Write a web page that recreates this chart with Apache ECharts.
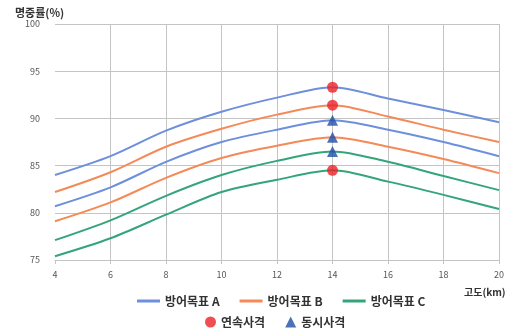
<!DOCTYPE html>
<html>
<head>
<meta charset="utf-8">
<script src="https://cdn.jsdelivr.net/npm/echarts@6/dist/echarts.min.js"></script>
<style>
  html, body { margin: 0; padding: 0; background: #ffffff; }
  #chart { width: 511px; height: 329px; }
</style>
</head>
<body>
<div id="chart"></div>
<script>
// Altitude (km) on the x axis
const altitudes = [4, 6, 8, 10, 12, 14, 16, 18, 20];
const yTicks = [75, 80, 85, 90, 95, 100];

// Hit rate (%) per defended target; two firing modes each
const targetAContinuous   = [84.0, 86.0, 88.7, 90.7, 92.2, 93.3, 92.1, 90.9, 89.6];
const targetASimultaneous = [80.7, 82.7, 85.4, 87.5, 88.8, 89.8, 88.8, 87.5, 86.0];
const targetBContinuous   = [82.2, 84.3, 87.0, 88.9, 90.4, 91.4, 90.2, 88.8, 87.5];
const targetBSimultaneous = [79.1, 81.1, 83.7, 85.8, 87.1, 88.0, 87.0, 85.7, 84.2];
const targetCSimultaneous = [77.1, 79.2, 81.8, 84.0, 85.5, 86.5, 85.4, 83.9, 82.4];
const targetCContinuous   = [75.4, 77.3, 79.8, 82.2, 83.5, 84.5, 83.3, 81.9, 80.4];

const seriesNames = ['방어목표 A', '방어목표 B', '방어목표 C'];
const markerNames = ['연속사격', '동시사격'];
const markAltitude = 14;

const colorA = '#6d8fdc';
const colorB = '#f48a58';
const colorC = '#34a57b';
const colorCircle = '#ec2027';
const colorTriangle = '#1f4ea6';

const pairs = arr => altitudes.map((x, i) => [x, arr[i]]);
const at = arr => [markAltitude, arr[altitudes.indexOf(markAltitude)]];

const lineSeries = (name, color, arr) => ({
  name, type: 'line', data: pairs(arr), smooth: 0.3,
  symbol: 'none', lineStyle: { color, width: 2 }, itemStyle: { color },
  z: 2
});

const font = '"Noto Sans CJK KR", "Noto Sans", sans-serif';
const gridGray = '#c4c4c4';

const chart = echarts.init(document.getElementById('chart'), null, { renderer: 'canvas' });
chart.setOption({
  animation: false,
  backgroundColor: '#ffffff',
  textStyle: { fontFamily: font },
  title: [
    { text: '명중률(%)', left: 10, top: 2,
      textStyle: { fontSize: 11, fontWeight: 'bold', color: '#333', fontFamily: font } },
    { text: '고도(km)', left: 459, top: 282,
      textStyle: { fontSize: 10, fontWeight: 'bold', color: '#333', fontFamily: font } }
  ],
  grid: { left: 55, right: 12, top: 24, bottom: 69, containLabel: false },
  xAxis: {
    type: 'value', min: altitudes[0], max: altitudes[altitudes.length - 1], interval: 2,
    axisLine: { show: true, lineStyle: { color: gridGray, width: 1 } },
    axisTick: { show: true, length: 4, lineStyle: { color: gridGray } },
    axisLabel: { color: '#555', fontSize: 9, margin: 10, fontFamily: font },
    splitLine: { show: true, lineStyle: { color: ['rgba(0,0,0,0)', gridGray, gridGray, gridGray, gridGray, gridGray, gridGray, gridGray, gridGray], width: 1 } }
  },
  yAxis: {
    type: 'value', min: yTicks[0], max: yTicks[yTicks.length - 1], interval: 5,
    axisLine: { show: false },
    axisTick: { show: false },
    axisLabel: { color: '#555', fontSize: 9, margin: 15, fontFamily: font },
    splitLine: { show: true, lineStyle: { color: gridGray, width: 1 } }
  },
  legend: [
    {
      data: seriesNames, left: 132, top: 290, orient: 'horizontal',
      icon: 'rect', itemWidth: 23, itemHeight: 3, itemGap: 20,
      textStyle: { fontSize: 12, color: '#333', fontWeight: 'bold', fontFamily: font }
    },
    {
      data: [
        { name: markerNames[0], icon: 'circle' },
        { name: markerNames[1], icon: 'triangle' }
      ],
      left: 200, top: 311, orient: 'horizontal',
      itemWidth: 11, itemHeight: 11, itemGap: 20,
      textStyle: { fontSize: 12, color: '#333', fontWeight: 'bold', fontFamily: font }
    }
  ],
  series: [
    lineSeries(seriesNames[0], colorA, targetAContinuous),
    lineSeries(seriesNames[0], colorA, targetASimultaneous),
    lineSeries(seriesNames[1], colorB, targetBContinuous),
    lineSeries(seriesNames[1], colorB, targetBSimultaneous),
    lineSeries(seriesNames[2], colorC, targetCSimultaneous),
    lineSeries(seriesNames[2], colorC, targetCContinuous),
    {
      name: markerNames[0], type: 'scatter', symbol: 'circle', symbolSize: 11,
      itemStyle: { color: colorCircle },
      data: [at(targetAContinuous), at(targetBContinuous), at(targetCContinuous)], z: 5
    },
    {
      name: markerNames[1], type: 'scatter', symbol: 'triangle', symbolSize: 11,
      itemStyle: { color: colorTriangle },
      data: [at(targetASimultaneous), at(targetBSimultaneous), at(targetCSimultaneous)], z: 5
    }
  ]
});
</script>
</body>
</html>
